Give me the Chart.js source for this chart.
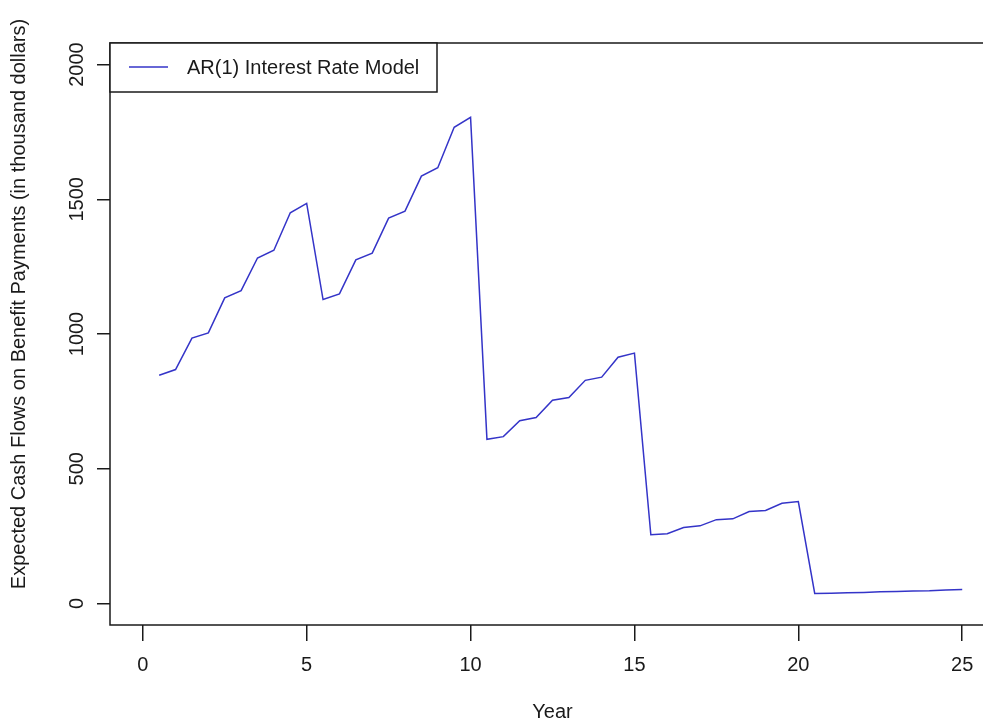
<!DOCTYPE html>
<html>
<head>
<meta charset="utf-8">
<script src="https://cdn.jsdelivr.net/npm/chart.js@4.4.1/dist/chart.umd.min.js"></script>
<style>
    html, body { margin: 0; padding: 0; background: #fff; overflow: hidden; }
    #wrap { width: 1000px; height: 725px; }
</style>
</head>
<body>
<div id="wrap">
    <canvas id="cashChart" width="1000" height="725"></canvas>
</div>
<script>
// Data (semi-annual payment dates)
const years = [
    0.5, 1, 1.5, 2, 2.5, 3, 3.5, 4, 4.5, 5,
    5.5, 6, 6.5, 7, 7.5, 8, 8.5, 9, 9.5, 10,
    10.5, 11, 11.5, 12, 12.5, 13, 13.5, 14, 14.5, 15,
    15.5, 16, 16.5, 17, 17.5, 18, 18.5, 19, 19.5, 20,
    20.5, 21, 21.5, 22, 22.5, 23, 23.5, 24, 24.5, 25
];
const cashFlows = [
    847, 868, 985, 1004, 1134, 1161, 1282, 1311, 1450, 1485,
    1128, 1149, 1275, 1300, 1430, 1456, 1586, 1617, 1767, 1804,
    609, 619, 678, 690, 754, 764, 828, 840, 914, 929,
    255, 259, 282, 288, 311, 314, 341, 345, 372, 378,
    37, 38, 40, 41, 43, 44, 46, 47, 50, 52
];
const xTicks = [0, 5, 10, 15, 20, 25];
const yTicks = [0, 500, 1000, 1500, 2000];
const seriesLabel = 'AR(1) Interest Rate Model';
const yTitle = 'Expected Cash Flows on Benefit Payments (in thousand dollars)';

const FONT = '"Liberation Sans", Arial, sans-serif';
const INK = '#1a1a1a';
const LINE_COLOR = 'rgb(52, 52, 200)';

// R style box around the plot region, rotated y labels, y title and the legend
const rPlotDecor = {
    id: 'rPlotDecor',
    afterDraw(chart) {
        const { ctx, chartArea: a, scales } = chart;
        ctx.save();
        ctx.strokeStyle = INK;
        ctx.lineWidth = 1.5;
        ctx.strokeRect(a.left, a.top, a.right - a.left, a.bottom - a.top);

        ctx.fillStyle = INK;
        ctx.font = '20px ' + FONT;
        ctx.textAlign = 'center';
        ctx.textBaseline = 'middle';

        // y tick labels, parallel to the axis
        yTicks.forEach(v => {
            const py = scales.y.getPixelForValue(v);
            ctx.save();
            ctx.translate(77, py);
            ctx.rotate(-Math.PI / 2);
            ctx.fillText(String(v), 0, 0);
            ctx.restore();
        });

        // y axis title
        ctx.save();
        ctx.translate(19, 304);
        ctx.rotate(-Math.PI / 2);
        ctx.fillText(yTitle, 0, 0);
        ctx.restore();

        // legend box in the top-left corner
        const lx = a.left, ly = a.top, lw = 327, lh = 49;
        ctx.fillStyle = '#fff';
        ctx.fillRect(lx, ly, lw, lh);
        ctx.strokeRect(lx, ly, lw, lh);
        ctx.strokeStyle = LINE_COLOR;
        ctx.lineWidth = 1.5;
        ctx.beginPath();
        ctx.moveTo(lx + 19, ly + 24);
        ctx.lineTo(lx + 58, ly + 24);
        ctx.stroke();
        ctx.fillStyle = INK;
        ctx.textAlign = 'left';
        ctx.fillText(chart.data.datasets[0].label, lx + 77, ly + 25);
        ctx.restore();
    }
};

const ctx = document.getElementById('cashChart').getContext('2d');
const chart = new Chart(ctx, {
    type: 'line',
    data: {
        datasets: [{
            label: seriesLabel,
            data: years.map((x, i) => ({ x: x, y: cashFlows[i] })),
            borderColor: LINE_COLOR,
            borderWidth: 1.5,
            pointRadius: 0,
            tension: 0,
            fill: false
        }]
    },
    options: {
        responsive: false,
        animation: false,
        layout: {
            padding: { top: 43, right: 5, left: 0, bottom: 0 }
        },
        plugins: {
            legend: { display: false },
            tooltip: { enabled: false }
        },
        scales: {
            x: {
                type: 'linear',
                min: -1,
                max: 26,
                afterBuildTicks: scale => {
                    scale.ticks = xTicks.map(v => ({ value: v }));
                },
                afterFit: scale => {
                    scale.height = 100;
                },
                border: { display: false },
                grid: {
                    drawOnChartArea: false,
                    drawTicks: true,
                    tickLength: 16,
                    color: INK,
                    lineWidth: 1.5
                },
                ticks: {
                    color: INK,
                    padding: 12,
                    maxRotation: 0,
                    font: { family: FONT, size: 20 }
                },
                title: {
                    display: true,
                    text: 'Year',
                    color: INK,
                    padding: { top: 0, bottom: 1 },
                    font: { family: FONT, size: 20 }
                }
            },
            y: {
                type: 'linear',
                min: -80,
                max: 2080,
                afterBuildTicks: scale => {
                    scale.ticks = yTicks.map(v => ({ value: v }));
                },
                afterFit: scale => {
                    scale.width = 110;
                },
                border: { display: false },
                grid: {
                    drawOnChartArea: false,
                    drawTicks: true,
                    tickLength: 13,
                    color: INK,
                    lineWidth: 1.5
                },
                ticks: {
                    display: false
                }
            }
        }
    },
    plugins: [rPlotDecor]
});
</script>
</body>
</html>
